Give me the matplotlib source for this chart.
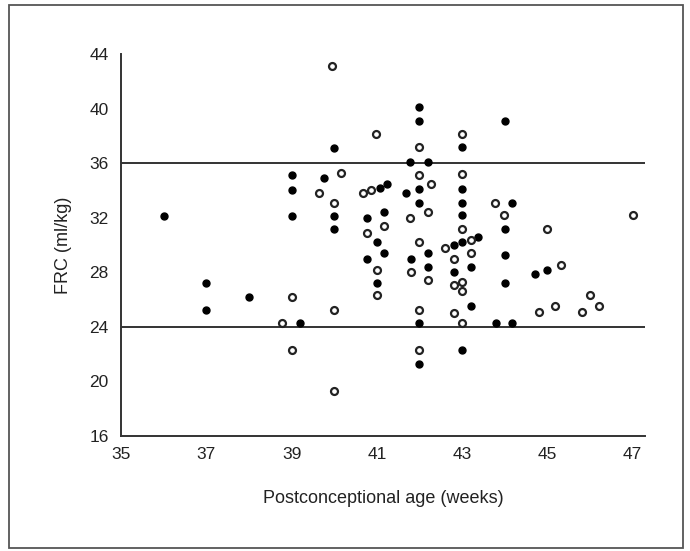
import matplotlib
matplotlib.use("Agg")
import matplotlib.pyplot as plt
from matplotlib.patches import Rectangle

# filled circles
filled_x = [36.0, 37.0, 37.0, 38.0, 39.0, 39.0, 39.0, 39.2, 39.75, 40.0, 40.0, 40.0,
            40.76, 40.76, 41.0, 41.0, 41.07, 41.17, 41.17, 41.25, 41.68, 41.77, 41.79,
            42.0, 42.0, 42.0, 42.0, 42.0, 42.0, 42.19, 42.19, 42.2, 42.81, 42.81,
            43.0, 43.0, 43.0, 43.0, 43.0, 43.0, 43.2, 43.2, 43.38, 43.79,
            44.0, 44.0, 44.0, 44.0, 44.17, 44.17, 44.71, 45.0]
filled_y = [32.1, 27.2, 25.2, 26.2, 35.1, 34.0, 32.1, 24.3, 34.9, 37.1, 32.1, 31.2,
            32.0, 29.0, 30.2, 27.2, 34.2, 32.4, 29.4, 34.5, 33.8, 36.1, 29.0,
            40.1, 39.1, 34.1, 33.1, 24.3, 21.3, 36.1, 29.4, 28.4, 30.0, 28.0,
            37.2, 34.1, 33.1, 32.2, 30.2, 22.3, 28.4, 25.5, 30.6, 24.3,
            39.1, 31.2, 29.3, 27.2, 33.1, 24.3, 27.9, 28.2]

# open circles
open_x = [38.78, 39.0, 39.0, 39.64, 39.96, 40.0, 40.0, 40.0, 40.15, 40.68, 40.76,
          40.86, 40.97, 41.0, 41.0, 41.17, 41.77, 41.8, 42.0, 42.0, 42.0, 42.0, 42.0,
          42.19, 42.2, 42.28, 42.59, 42.81, 42.81, 42.81, 43.0, 43.0, 43.0, 43.0,
          43.0, 43.0, 43.2, 43.2, 43.78, 43.99, 44.8, 45.0, 45.19, 45.32, 45.81,
          46.0, 46.22, 47.0]
open_y = [24.3, 26.2, 22.3, 33.8, 43.1, 33.1, 25.2, 19.3, 35.3, 33.8, 30.9,
          34.0, 38.1, 28.2, 26.3, 31.4, 32.0, 28.0, 37.2, 35.1, 30.2, 25.2, 22.3,
          32.4, 27.4, 34.5, 29.8, 29.0, 27.1, 25.0, 38.1, 35.2, 31.2, 27.3,
          26.6, 24.3, 30.4, 29.4, 33.1, 32.2, 25.1, 31.2, 25.5, 28.5, 25.1,
          26.3, 25.5, 32.2]

ref_lines = [24, 36]
x_ticks = [35, 37, 39, 41, 43, 45, 47]
y_ticks = [16, 20, 24, 28, 32, 36, 40, 44]

plt.rcParams['font.family'] = ['Liberation Sans', 'DejaVu Sans']

fig = plt.figure(figsize=(6.9, 5.51), dpi=100)
ax = fig.add_axes([0.1754, 0.2087, 0.7594, 0.6933])

for y in ref_lines:
    ax.axhline(y, color='#333333', lw=1.4, zorder=1)

ax.plot(filled_x, filled_y, 'o', ms=5, color='black', mec='black', zorder=3)
ax.plot(open_x, open_y, 'o', ms=5, mfc='white', mec='#222222', mew=1.6, zorder=3)

ax.set_xlim(35, 47.29)
ax.set_ylim(16, 44)
ax.set_xticks(x_ticks)
ax.set_yticks(y_ticks)
ax.tick_params(length=0, labelsize=12.5, colors='#222222')
ax.tick_params(axis='x', pad=8)
ax.tick_params(axis='y', pad=9)

for s in ['top', 'right']:
    ax.spines[s].set_visible(False)
for s in ['left', 'bottom']:
    ax.spines[s].set_linewidth(1.4)
    ax.spines[s].set_color('#333333')

ax.set_xlabel('Postconceptional age (weeks)', fontsize=13, labelpad=20, color='#222222')
ax.set_ylabel('FRC (ml/kg)', fontsize=13, labelpad=12, color='#222222')

fig.patches.append(Rectangle((9 / 690, 3 / 551), 674 / 690, 543 / 551,
                             transform=fig.transFigure, fill=False,
                             edgecolor='#555555', lw=1.3))

fig.savefig('out.png', dpi=100)
